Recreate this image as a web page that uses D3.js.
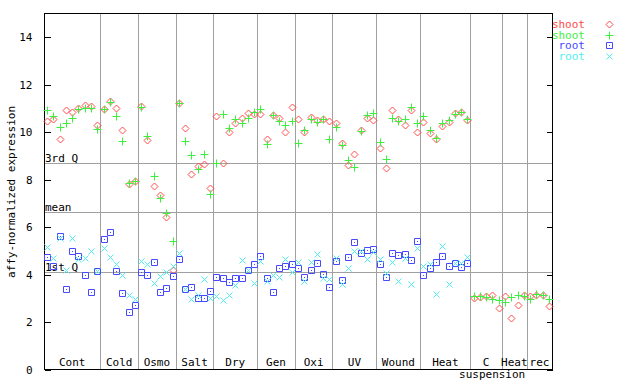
<!DOCTYPE html>
<html>
<head>
<meta charset="utf-8">
<script src="https://cdn.jsdelivr.net/npm/d3@7"></script>
<style>
body { margin: 0; background: #fff; }
text { font-family: "DejaVu Sans Mono", monospace; font-size: 11px; }
</style>
</head>
<body>
<div id="chart"></div>
<script>
// experiment groups along x, and how many samples (columns) each has
var groups = ["Cont", "Cold", "Osmo", "Salt", "Dry", "Gen", "Oxi", "UV", "Wound", "Heat", "C|suspension", "Heat", "rec"];
var groupSizes = [9, 6, 6, 6, 7, 6, 6, 7, 7, 8, 5, 4, 4];

// shoot series (81 columns)
var shootRed = [10.46, 10.54, 9.69, 10.92, 10.83, 11.0, 11.13, 11.1, 10.3,
  10.96, 11.3, 11.0, 10.07, 7.79, 7.93,
  11.1, 9.65, 7.71, 7.33, 6.4, 4.16,
  11.21, 10.16, 8.22, 8.55, 8.64, 7.62,
  10.66, 8.68, 9.99, 10.37, 10.58, 10.79, 10.75,
  10.75, 9.69, 10.7, 10.58, 9.99, 11.04,
  10.54, 9.99, 10.62, 10.49, 10.54, 10.45,
  10.37, 9.52, 8.59, 9.06, 10.07, 10.58, 10.49,
  9.31, 8.47, 10.92, 10.54, 10.28, 10.92, 9.99,
  10.41, 9.95, 9.69, 10.24, 10.41, 10.79, 10.83, 10.49,
  2.98, 3.03, 3.07, 3.11, 2.56,
  3.07, 2.14, 2.69, 3.11,
  3.07, 3.11, 3.11, 2.65];
var shootGreen = [10.92, 10.67, 10.2, 10.37, 10.58, 10.96, 11.0, 11.0, 10.11,
  10.96, 11.25, 10.67, 9.61, 7.84, 7.93,
  11.05, 9.82, 8.13, 7.2, 6.57, 5.39,
  11.21, 9.61, 9.02, 8.43, 9.06, 7.37,
  8.68, 10.75, 10.16, 10.54, 10.37, 10.58, 10.83,
  10.96, 9.48, 10.7, 10.45, 10.28, 10.45,
  9.52, 10.07, 10.54, 10.41, 10.54, 9.69,
  10.2, 9.44, 8.81, 8.51, 10.03, 10.7, 10.79,
  9.57, 8.85, 10.58, 10.45, 10.54, 11.04, 10.37,
  10.66, 10.07, 9.74, 10.37, 10.49, 10.75, 10.83, 10.54,
  3.07, 3.07, 3.03, 2.94, 2.9,
  2.81, 3.03, 3.11, 3.07,
  2.94, 3.15, 3.11, 2.94];

// root series (first 68 columns only)
var rootBlue = [4.71, 4.33, 5.6, 3.36, 4.97, 4.76, 3.95, 3.24, 4.12,
  5.47, 5.77, 4.12, 3.19, 2.39, 2.69,
  4.08, 3.95, 4.5, 3.24, 3.41, 3.92,
  4.63, 3.36, 3.45, 2.98, 2.98, 3.28,
  3.87, 3.83, 3.66, 3.83, 3.83, 4.16, 4.42,
  4.76, 3.83, 3.24, 4.25, 4.33, 4.42,
  4.25, 3.87, 4.16, 4.46, 4.0, 3.45,
  4.54, 3.74, 4.71, 5.35, 4.88, 5.01, 5.05,
  4.42, 3.87, 4.88, 4.8, 4.84, 4.59, 5.39,
  3.95, 4.25, 4.5, 4.76, 4.33, 4.46, 4.29, 4.46];
var rootCyan = [5.14, 4.67, 5.51, 4.16, 5.51, 4.63, 4.67, 4.97, 4.12,
  5.09, 4.71, 4.42, 3.95, 3.11, 2.94,
  4.55, 4.42, 3.62, 3.91, 4.08, 4.32,
  4.88, 3.36, 2.94, 3.11, 3.78, 2.98,
  3.07, 2.9, 3.11, 3.53, 4.59, 4.16, 3.62,
  4.54, 3.7, 3.95, 3.87, 4.63, 4.08,
  4.5, 3.7, 4.5, 4.84, 3.83, 3.78,
  4.67, 3.57, 4.25, 4.97, 4.97, 4.63, 4.92,
  4.63, 4.04, 4.5, 3.7, 4.67, 3.57, 5.09,
  4.33, 4.42, 3.15, 5.18, 3.57, 4.46, 4.46, 4.71];

// reference lines
var refLabels = ["3rd Q", "mean", "1st Q"];
var refValues = [8.68, 6.61, 4.08];

var yTicks = [0, 2, 4, 6, 8, 10, 12, 14];

var W = 640, H = 384;
var pLeft = 44, pRight = 552, pTop = 13, pBottom = 369;
var nCols = d3.sum(groupSizes);

var svg = d3.select('#chart').append('svg')
  .attr('width', W)
  .attr('height', H)
  .style('background', '#fff');

var x = d3.scaleLinear()
  .domain([0, nCols])
  .range([pLeft, pRight]);
var y = d3.scaleLinear()
  .domain([0, 15])
  .range([pBottom, pTop]);

var cx = function(i) { return x(i + 0.5); };

// group separators
var bounds = [];
var acc = 0;
groupSizes.forEach(function(s, g) {
  bounds.push({ g: g, start: acc, end: acc + s });
  acc += s;
});

svg.append('g').selectAll('line')
  .data(bounds.slice(0, -1))
  .enter().append('line')
  .attr('x1', function(d) { return Math.round(x(d.end)) + 0.5; })
  .attr('x2', function(d) { return Math.round(x(d.end)) + 0.5; })
  .attr('y1', pTop)
  .attr('y2', pBottom)
  .attr('stroke', '#a0a0a0')
  .attr('shape-rendering', 'crispEdges');

// quartile / mean lines
svg.append('g').selectAll('line')
  .data(refValues)
  .enter().append('line')
  .attr('x1', pLeft)
  .attr('x2', pRight)
  .attr('y1', function(d) { return Math.round(y(d)) + 0.5; })
  .attr('y2', function(d) { return Math.round(y(d)) + 0.5; })
  .attr('stroke', '#a0a0a0')
  .attr('shape-rendering', 'crispEdges');

svg.append('g').selectAll('text')
  .data(refValues)
  .enter().append('text')
  .attr('x', pLeft + 1)
  .attr('y', function(d) { return Math.round(y(d)) - 1; })
  .attr('fill', '#000')
  .text(function(d, i) { return refLabels[i]; });

// frame
svg.append('rect')
  .attr('x', pLeft + 0.5).attr('y', pTop + 0.5)
  .attr('width', pRight - pLeft).attr('height', pBottom - pTop)
  .attr('fill', 'none').attr('stroke', '#000')
  .attr('shape-rendering', 'crispEdges');

// y ticks, inward on both sides
var yAxisL = d3.axisLeft(y).tickValues(yTicks).tickSize(-6).tickPadding(12);
var yAxisR = d3.axisRight(y).tickValues(yTicks).tickSize(-6).tickFormat('');
var gl = svg.append('g').attr('transform', 'translate(' + (pLeft + 0.5) + ',0.5)').call(yAxisL);
var gr = svg.append('g').attr('transform', 'translate(' + (pRight + 0.5) + ',0.5)').call(yAxisR);
[gl, gr].forEach(function(g) {
  g.select('.domain').remove();
  g.selectAll('line').attr('stroke', '#000').attr('shape-rendering', 'crispEdges');
  g.selectAll('text').attr('fill', '#000')
    .style('font-family', '"DejaVu Sans Mono", monospace').style('font-size', '11px');
});

svg.append('text')
  .attr('transform', 'translate(15,192) rotate(-90)')
  .attr('text-anchor', 'middle')
  .text('affy-normalized expression');

// group labels
var lab = svg.append('g').selectAll('text')
  .data(bounds)
  .enter().append('text')
  .attr('text-anchor', 'middle')
  .attr('y', 366);
lab.each(function(d) {
  var parts = groups[d.g].split('|');
  var t = d3.select(this);
  parts.forEach(function(p, k) {
    t.append('tspan')
      .attr('x', (x(d.start) + x(d.end)) / 2 + (k > 0 ? 6 : 0))
      .attr('dy', k === 0 ? 0 : 12)
      .text(p);
  });
});

// markers
var redC = '#ff4a4a', greenC = '#3ef03e', blueC = '#4848ff', cyanC = '#4ef0f0';
var diamond = 'M0,-3.5L3.5,0L0,3.5L-3.5,0Z';
var plus = 'M-4,0H4M0,-4V4';
var cross = 'M-3,-3L3,3M-3,3L3,-3';
var sq = 'M-3,-3H3V3H-3Z';

function drawSeries(data, shape, color) {
  svg.append('g').selectAll('path')
    .data(data)
    .enter().append('path')
    .attr('transform', function(d, i) { return 'translate(' + (Math.round(cx(i)) + 0.5) + ',' + (Math.round(y(d)) + 0.5) + ')'; })
    .attr('d', shape)
    .attr('fill', 'none')
    .attr('stroke', color)
    .attr('stroke-width', 1);
}

drawSeries(shootRed, diamond, redC);
drawSeries(shootGreen, plus, greenC);
drawSeries(rootBlue, sq, blueC);
svg.append('g').selectAll('rect')
  .data(rootBlue)
  .enter().append('rect')
  .attr('x', function(d, i) { return Math.round(cx(i)); })
  .attr('y', function(d) { return Math.round(y(d)); })
  .attr('width', 1).attr('height', 1)
  .attr('fill', blueC);
drawSeries(rootCyan, cross, cyanC);

// legend
var legNames = ['shoot', 'shoot', 'root', 'root'];
var legColors = [redC, greenC, blueC, cyanC];
var legShapes = [diamond, plus, sq, cross];
var leg = svg.append('g');
legNames.forEach(function(n, i) {
  var yy = 24 + i * 10.7;
  leg.append('text')
    .attr('x', 585).attr('y', yy + 4)
    .attr('text-anchor', 'end')
    .attr('fill', legColors[i])
    .text(n);
  leg.append('path')
    .attr('transform', 'translate(609.5,' + (Math.round(yy) + 0.5) + ')')
    .attr('d', legShapes[i])
    .attr('fill', 'none')
    .attr('stroke', legColors[i]);
});
leg.append('rect').attr('x', 609).attr('y', Math.round(24 + 2 * 10.7)).attr('width', 1).attr('height', 1).attr('fill', blueC);
</script>
</body>
</html>
